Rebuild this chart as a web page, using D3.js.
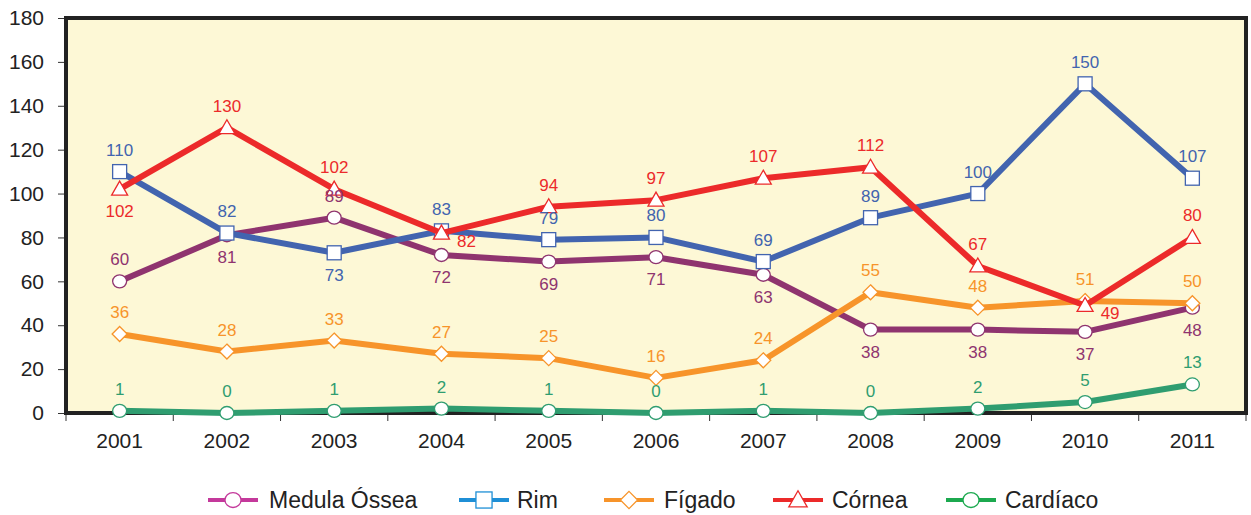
<!DOCTYPE html>
<html>
<head>
<meta charset="utf-8">
<script src="https://cdn.jsdelivr.net/npm/d3@7"></script>
<style>
  body { margin: 0; background: #fff; }
  svg { display: block; font-family: "Liberation Sans", Arial, sans-serif; }
</style>
</head>
<body>
<svg id="chart" width="1251" height="515"></svg>
<script>
// Transplant counts per year
const years = ["2001","2002","2003","2004","2005","2006","2007","2008","2009","2010","2011"];
const medulaOssea = [60, 81, 89, 72, 69, 71, 63, 38, 38, 37, 48];
const rim         = [110, 82, 73, 83, 79, 80, 69, 89, 100, 150, 107];
const figado      = [36, 28, 33, 27, 25, 16, 24, 55, 48, 51, 50];
const cornea      = [102, 130, 102, 82, 94, 97, 107, 112, 67, 49, 80];
const cardiaco    = [1, 0, 1, 2, 1, 0, 1, 0, 2, 5, 13];
const yTicks      = [0, 20, 40, 60, 80, 100, 120, 140, 160, 180];

// Value label placement per point: a = above, b = below, r = right
const medulaPlace   = ["a","b","a","b","b","b","b","b","b","b","b"];
const rimPlace      = ["a","a","b","a","a","a","a","a","a","a","a"];
const figadoPlace   = ["a","a","a","a","a","a","a","a","a","a","a"];
const corneaPlace   = ["b","a","a","r","a","a","a","a","a","r","a"];
const cardiacoPlace = ["a","a","a","a","a","a","a","a","a","a","a"];

// Drawing order: first series sits at the bottom
const series = [
  { name: "Medula Óssea", values: medulaOssea, place: medulaPlace, color: "#8f346f", legendColor: "#c4399b", marker: "circle" },
  { name: "Rim",          values: rim,         place: rimPlace,    color: "#4264af", legendColor: "#1f8fd6", marker: "square" },
  { name: "Fígado",       values: figado,      place: figadoPlace, color: "#f7942a", legendColor: "#f7942a", marker: "diamond" },
  { name: "Córnea",       values: cornea,      place: corneaPlace, color: "#ec2a2a", legendColor: "#ec2a2a", marker: "triangle" },
  { name: "Cardíaco",     values: cardiaco,    place: cardiacoPlace, color: "#2f9d70", legendColor: "#1ca94f", marker: "circle" }
];

const svg = d3.select("#chart");
const plotL = 66, plotR = 1246, plotT = 18, plotB = 413;

const x = d3.scaleBand().domain(years).range([plotL, plotR]).padding(0);
const y = d3.scaleLinear().domain([0, 180]).range([plotB, plotT]);
const cx = d => x(d) + x.bandwidth() / 2;

// Plot background
svg.append("rect")
  .attr("x", plotL).attr("y", plotT)
  .attr("width", plotR - plotL).attr("height", plotB - plotT)
  .attr("fill", "#fdf8d6");

// Y axis ticks and labels
const yAxis = d3.axisLeft(y).tickValues(yTicks).tickSize(6).tickPadding(14);
const gy = svg.append("g").attr("transform", `translate(${plotL - 2},0)`).call(yAxis);
gy.select(".domain").remove();
gy.selectAll(".tick line").attr("stroke", "#333").attr("stroke-width", 1);
gy.selectAll("text").attr("font-size", 21).attr("fill", "#222")
  .attr("font-family", "Liberation Sans, Arial, sans-serif");

// X axis: ticks on band boundaries, labels centred in each band
const gx = svg.append("g").attr("transform", `translate(0,${plotB + 2})`);
const bounds = years.map(d => x(d)).concat([plotR]);
gx.selectAll("line").data(bounds).join("line")
  .attr("x1", d => d).attr("x2", d => d)
  .attr("y1", 0).attr("y2", 6)
  .attr("stroke", "#333").attr("stroke-width", 1);
gx.selectAll("text").data(years).join("text")
  .attr("x", d => cx(d)).attr("y", 33)
  .attr("text-anchor", "middle")
  .attr("font-size", 21).attr("fill", "#222")
  .text(d => d);

// Frame around the plot
svg.append("rect")
  .attr("x", plotL).attr("y", plotT)
  .attr("width", plotR - plotL).attr("height", plotB - plotT)
  .attr("fill", "none").attr("stroke", "#222").attr("stroke-width", 4);

// Marker shapes
function drawMarker(g, type, px, py, stroke, s) {
  s = s || 1;
  if (type === "circle") {
    g.append("ellipse").attr("cx", px).attr("cy", py).attr("rx", 7 * s).attr("ry", 6.5 * s)
      .attr("fill", "#fff").attr("stroke", stroke).attr("stroke-width", 1.3);
  } else if (type === "square") {
    g.append("rect").attr("x", px - 7 * s).attr("y", py - 7 * s)
      .attr("width", 14 * s).attr("height", 14 * s)
      .attr("fill", "#fff").attr("stroke", stroke).attr("stroke-width", 1.3);
  } else if (type === "diamond") {
    const r = 7.5 * s;
    g.append("path").attr("d", `M${px},${py - r}L${px + r},${py}L${px},${py + r}L${px - r},${py}Z`)
      .attr("fill", "#fff").attr("stroke", stroke).attr("stroke-width", 1.3);
  } else if (type === "triangle") {
    const r = 8 * s;
    g.append("path").attr("d", `M${px},${py - r}L${px + r},${py + r * 0.75}L${px - r},${py + r * 0.75}Z`)
      .attr("fill", "#fff").attr("stroke", stroke).attr("stroke-width", 1.3);
  }
}

const line = d3.line().x((d, i) => cx(years[i])).y(d => y(d));

series.forEach(s => {
  const g = svg.append("g");
  g.append("path").datum(s.values)
    .attr("d", line)
    .attr("fill", "none")
    .attr("stroke", s.color)
    .attr("stroke-width", 6)
    .attr("stroke-linejoin", "round");
  s.values.forEach((v, i) => drawMarker(g, s.marker, cx(years[i]), y(v), s.color));
});

// Value labels on top of all lines
series.forEach(s => {
  const g = svg.append("g");
  s.values.forEach((v, i) => {
    const p = s.place[i];
    const px = cx(years[i]), py = y(v);
    let dx = 0, dy = -16;
    if (p === "b") dy = 28;
    if (p === "r") { dx = 25; dy = 14; }
    g.append("text")
      .attr("x", px + dx).attr("y", py + dy)
      .attr("text-anchor", "middle")
      .attr("font-size", 17)
      .attr("fill", s.color)
      .text(v);
  });
});

// Legend
const legendItems = [
  { lx: 208, tx: 269 },
  { lx: 459, tx: 517 },
  { lx: 604, tx: 664 },
  { lx: 773, tx: 832 },
  { lx: 946, tx: 1005 }
];
const ly = 500;
series.forEach((s, i) => {
  const it = legendItems[i];
  const g = svg.append("g");
  g.append("line")
    .attr("x1", it.lx).attr("x2", it.lx + 50)
    .attr("y1", ly).attr("y2", ly)
    .attr("stroke", s.legendColor).attr("stroke-width", 4);
  drawMarker(g, s.marker, it.lx + 25, ly, s.legendColor, 1.15);
  g.append("text")
    .attr("x", it.tx).attr("y", ly + 8)
    .attr("font-size", 23).attr("fill", "#222")
    .text(s.name);
});
</script>
</body>
</html>
